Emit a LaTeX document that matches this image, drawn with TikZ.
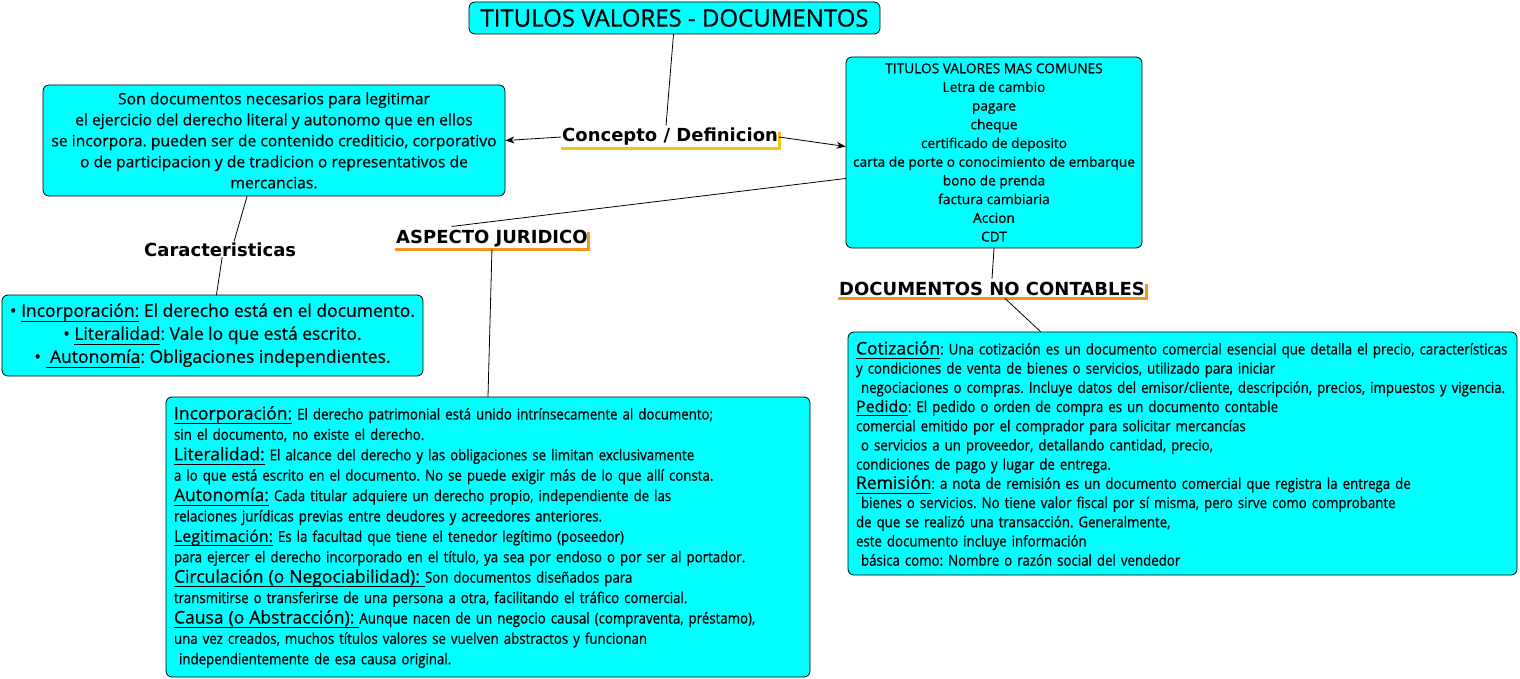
\documentclass[tikz,border=0pt]{standalone}
\usepackage{fontspec}
\setmainfont[FakeBold=0.6]{Open Sans}
\newfontfamily\labelfont{DejaVu Sans}
\newfontfamily\narrowfont[FakeStretch=0.885,FakeBold=0.6]{Open Sans}
\usetikzlibrary{arrows.meta}
\definecolor{boxcyan}{HTML}{00FFFF}
\definecolor{tagyellow}{HTML}{F5C211}
\definecolor{tagorange}{HTML}{F7941D}
\newcommand{\ulword}[1]{\setbox0\hbox{#1}\leavevmode\rlap{\rule[-0.27em]{\wd0}{1pt}}\box0\relax}
\newcommand{\headterm}[2][17.5]{{\normalfont\fontsize{#1}{20}\selectfont\ulword{#2}}}
\frenchspacing

\begin{document}
\begin{tikzpicture}[x=1pt,y=-1pt,>={Stealth[length=9pt,width=7pt]},line cap=round,
  box/.style={draw,fill=boxcyan,rounded corners=6pt,line width=0.8pt,inner sep=0pt},
  tag/.style={font=\labelfont\bfseries\fontsize{18}{21}\selectfont,inner xsep=1pt,inner ysep=3pt,anchor=base west},
  bar/.style={line width=3pt,line cap=butt},
  link/.style={line width=0.8pt}]
\useasboundingbox (0,0) rectangle (1520,679);
\node[box,minimum width=411,minimum height=32,font=\fontsize{24}{28}\selectfont] (title) at (674.5,18) {TITULOS VALORES - DOCUMENTOS};
\node[box,minimum width=462,minimum height=111,align=center,font=\fontsize{15.7}{21}\selectfont] (concept) at (274,140.5)
  {Son documentos necesarios para legitimar\\
   el ejercicio del derecho literal y autonomo que en ellos\\
   se incorpora. pueden ser de contenido crediticio, corporativo\\
   o de participacion y de tradicion o representativos de\\
   mercancias.};
\node[box,minimum width=296,minimum height=191,align=center,font=\fontsize{13.7}{18.7}\selectfont] (common) at (994,152.5)
  {TITULOS VALORES MAS COMUNES\\ Letra de cambio\\ pagare\\ cheque\\ certificado de deposito\\
   carta de porte o conocimiento de embarque\\ bono de prenda\\ factura cambiaria\\ Accion\\ CDT};
\node[box,minimum width=421,minimum height=81,align=center,font=\fontsize{17.5}{23}\selectfont] (traits) at (212.5,335.5)
  {\textbullet\ \ulword{Incorporación:} El derecho está en el documento.\\
   \textbullet\ \ulword{Literalidad}: Vale lo que está escrito.\\
   \textbullet\ \ulword{\ Autonomía}: Obligaciones independientes.};
\node[box,minimum width=644,minimum height=280,text width=628,align=left,font=\narrowfont\fontsize{15}{20.4}\selectfont] (legal) at (488,537)
  {\headterm{Incorporación:} El derecho patrimonial está unido intrínsecamente al documento;\\
   sin el documento, no existe el derecho.\\
   \headterm{Literalidad:} El alcance del derecho y las obligaciones se limitan exclusivamente\\
   a lo que está escrito en el documento. No se puede exigir más de lo que allí consta.\\
   \headterm{Autonomía:} Cada titular adquiere un derecho propio, independiente de las\\
   relaciones jurídicas previas entre deudores y acreedores anteriores.\\
   \headterm[16]{Legitimación:} Es la facultad que tiene el tenedor legítimo (poseedor)\\
   para ejercer el derecho incorporado en el título, ya sea por endoso o por ser al portador.\\
   \headterm{Circulación (o Negociabilidad):\ }Son documentos diseñados para\\
   transmitirse o transferirse de una persona a otra, facilitando el tráfico comercial.\\
   \headterm{Causa (o Abstracción):\ }Aunque nacen de un negocio causal (compraventa, préstamo),\\
   una vez creados, muchos títulos valores se vuelven abstractos y funcionan\\
   \ independientemente de esa causa original.};
\node[box,minimum width=669,minimum height=243,text width=653,align=left,font=\narrowfont\fontsize{15}{19.2}\selectfont] (noncount) at (1182.5,453.5)
  {\headterm{Cotización}: Una cotización es un documento comercial esencial que detalla el precio, características\\
   y condiciones de venta de bienes o servicios, utilizado para iniciar\\
   \ negociaciones o compras. Incluye datos del emisor/cliente, descripción, precios, impuestos y vigencia.\\
   \headterm[16]{Pedido}: El pedido o orden de compra es un documento contable\\
   comercial emitido por el comprador para solicitar mercancías\\
   \ o servicios a un proveedor, detallando cantidad, precio,\\
   condiciones de pago y lugar de entrega.\\
   \headterm{Remisión}: a nota de remisión es un documento comercial que registra la entrega de\\
   \ bienes o servicios. No tiene valor fiscal por sí misma, pero sirve como comprobante\\
   de que se realizó una transacción. Generalmente,\\
   este documento incluye información\\
   \ básica como: Nombre o razón social del vendedor};
\node[tag] (define) at (561,142) {Concepto / Definicion};
\node[tag] (juridic) at (395,243) {ASPECTO JURIDICO};
\node[tag] (nocount) at (838,295) {DOCUMENTOS NO CONTABLES};
\node[tag,inner ysep=1pt] (traitlbl) at (143,256) {Caracteristicas};
\draw[bar,tagyellow] (define.south west) -| ([yshift=-7pt]define.north east);
\draw[bar,tagorange] (juridic.south west) -| ([yshift=-6pt]juridic.north east);
\draw[bar,tagorange] (nocount.south west) -| ([yshift=-6pt]nocount.north east);
\draw[link] ([xshift=-1pt]title.south) -- ([xshift=-4pt]define.north);
\draw[link,->] (define.west) -- (concept.east);
\draw[link,->] (define.east) -- ([yshift=6pt]common.west);
\draw[link] ([yshift=-26pt]common.west) -- ([xshift=-40pt]juridic.north);
\draw[link] (juridic.south) -- (legal.north);
\draw[link] ([xshift=-27pt]concept.south) -- ([xshift=14pt]traitlbl.north);
\draw[link] ([xshift=2pt]traitlbl.south) -- ([xshift=4pt]traits.north);
\draw[link] (common.south) -- (nocount.north);
\draw[link] ([xshift=13pt]nocount.south) -- ([xshift=-142pt]noncount.north);
\end{tikzpicture}
\end{document}
